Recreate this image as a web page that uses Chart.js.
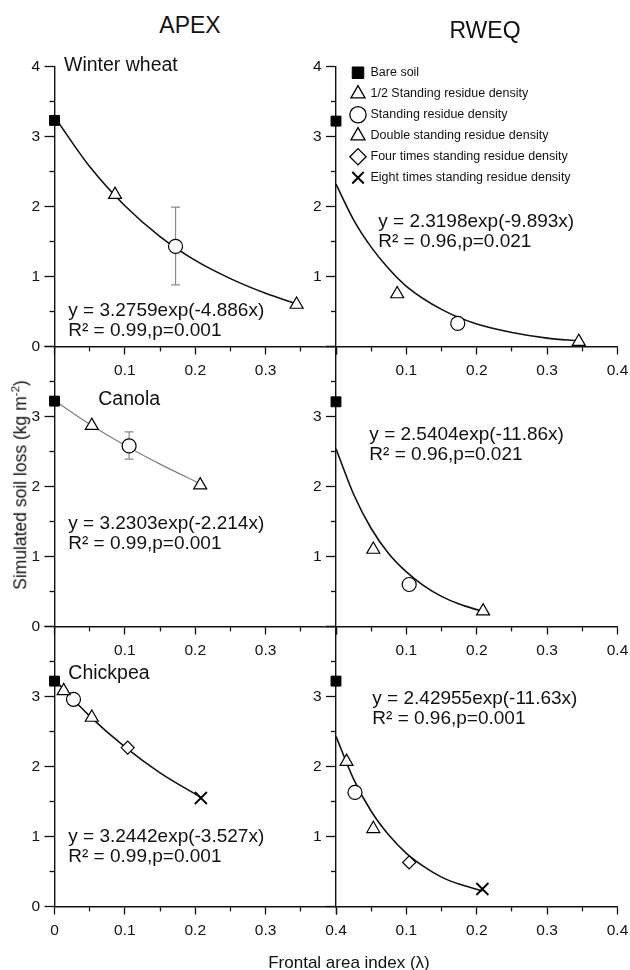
<!DOCTYPE html>
<html>
<head>
<meta charset="utf-8">
<script src="https://cdn.jsdelivr.net/npm/chart.js@4.4.1/dist/chart.umd.min.js"></script>
<style>
html,body{margin:0;padding:0;background:#fff;}
#fig{position:relative;width:630px;height:970px;overflow:hidden;font-family:"Liberation Sans",Arial,sans-serif;color:#111;}
canvas{position:absolute;}
.t{position:absolute;white-space:nowrap;line-height:1;}
</style>
</head>
<body>
<div id="fig">
  <canvas id="c00"></canvas>
  <canvas id="c01"></canvas>
  <canvas id="c10"></canvas>
  <canvas id="c11"></canvas>
  <canvas id="c20"></canvas>
  <canvas id="c21"></canvas>
  <div class="t" style="font-size:23px;left:190px;top:25px;transform:translate(-50%,-50%)">APEX</div>
  <div class="t" style="font-size:23px;left:485px;top:30px;transform:translate(-50%,-50%)">RWEQ</div>
  <div class="t" style="font-size:17.5px;left:19.5px;top:485px;transform:translate(-50%,-50%) rotate(-90deg)">Simulated soil loss (kg m<sup style="font-size:11.5px;vertical-align:7px">-2</sup>)</div>
  <div class="t" style="font-size:17px;left:349px;top:962px;transform:translate(-50%,-50%)">Frontal area index (λ)</div>
</div>
<script>
// ---------------- DATA ----------------
const seriesNames = [
  'Bare soil',
  '1/2 Standing residue density',
  'Standing residue density',
  'Double standing residue density',
  'Four times standing residue density',
  'Eight times standing residue density'
];

const xTickValues = [0, 0.05, 0.1, 0.15, 0.2, 0.25, 0.3, 0.35, 0.4];
const xTickLabels = ['0', '', '0.1', '', '0.2', '', '0.3', '', '0.4'];
const yTickValues = [0, 0.5, 1, 1.5, 2, 2.5, 3, 3.5, 4];
const yTickLabels = ['0', '', '1', '', '2', '', '3', '', '4'];

// Winter wheat
const wheatApexLambda = [0, 0.086, 0.172, 0.344, null, null];
const wheatApexLoss   = [3.23, 2.17, 1.43, 0.60, null, null];
const wheatApexErrLow  = [null, null, 0.88, null, null, null];
const wheatApexErrHigh = [null, null, 1.99, null, null, null];
const wheatApexFitX = [0, 0.05, 0.1, 0.15, 0.2, 0.25, 0.3, 0.344];
const wheatApexFitY = [3.28, 2.57, 2.01, 1.57, 1.23, 0.97, 0.76, 0.61];

const wheatRweqLambda = [0, 0.087, 0.173, 0.345, null, null];
const wheatRweqLoss   = [3.22, 0.75, 0.33, 0.07, null, null];
const wheatRweqFitX = [0, 0.025, 0.05, 0.075, 0.1, 0.15, 0.2, 0.25, 0.3, 0.345];
const wheatRweqFitY = [2.32, 1.81, 1.42, 1.11, 0.86, 0.53, 0.32, 0.20, 0.12, 0.08];

// Canola
const canolaApexLambda = [0, 0.053, 0.106, 0.207, null, null];
const canolaApexLoss   = [3.22, 2.87, 2.58, 2.02, null, null];
const canolaApexErrLow  = [null, null, 2.39, null, null, null];
const canolaApexErrHigh = [null, null, 2.78, null, null, null];
const canolaApexFitX = [0, 0.05, 0.1, 0.15, 0.207];
const canolaApexFitY = [3.23, 2.89, 2.59, 2.32, 2.04];

const canolaRweqLambda = [0, 0.053, 0.104, 0.209, null, null];
const canolaRweqLoss   = [3.21, 1.10, 0.60, 0.22, null, null];
const canolaRweqFitX = [0, 0.025, 0.05, 0.075, 0.1, 0.125, 0.15, 0.175, 0.207];
const canolaRweqFitY = [2.54, 1.89, 1.40, 1.04, 0.78, 0.58, 0.43, 0.32, 0.22];

// Chickpea
const chickpeaApexLambda = [0, 0.013, 0.027, 0.053, 0.104, 0.208];
const chickpeaApexLoss   = [3.22, 3.08, 2.96, 2.70, 2.27, 1.55];
const chickpeaApexFitX = [0, 0.05, 0.1, 0.15, 0.208];
const chickpeaApexFitY = [3.24, 2.72, 2.28, 1.91, 1.56];

const chickpeaRweqLambda = [0, 0.015, 0.027, 0.053, 0.104, 0.208];
const chickpeaRweqLoss   = [3.22, 2.07, 1.63, 1.11, 0.63, 0.25];
const chickpeaRweqFitX = [0, 0.025, 0.05, 0.075, 0.1, 0.125, 0.15, 0.175, 0.208];
const chickpeaRweqFitY = [2.43, 1.82, 1.36, 1.02, 0.76, 0.57, 0.42, 0.32, 0.22];

const cropNames = ['Winter wheat', 'Canola', 'Chickpea'];
const fitEquations = [
  ['y = 3.2759exp(-4.886x)', 'R² = 0.99,p=0.001'],
  ['y = 2.3198exp(-9.893x)', 'R² = 0.96,p=0.021'],
  ['y = 3.2303exp(-2.214x)', 'R² = 0.99,p=0.001'],
  ['y = 2.5404exp(-11.86x)', 'R² = 0.96,p=0.021'],
  ['y = 3.2442exp(-3.527x)', 'R² = 0.99,p=0.001'],
  ['y = 2.42955exp(-11.63x)', 'R² = 0.96,p=0.001']
];

// ---------------- STYLE / LAYOUT ----------------
const FONT = "'Liberation Sans', Arial, sans-serif";
Chart.defaults.font.family = FONT;
Chart.defaults.color = '#111';

const markerStyles = [
  {pointStyle: 'rect', radius: 7, bg: '#000', bw: 1},
  {pointStyle: 'triangle', radius: 7.5, bg: '#fff', bw: 1.2},
  {pointStyle: 'circle', radius: 7, bg: '#fff', bw: 1.2},
  {pointStyle: 'triangle', radius: 7.5, bg: '#fff', bw: 1.2},
  {pointStyle: 'rectRot', radius: 6.5, bg: '#fff', bw: 1.2},
  {pointStyle: 'crossRot', radius: 8.5, bg: '#000', bw: 1.8}
];

const ROW_TOP = [66.5, 346.5, 626.5];
const PLOT_H = 280, PLOT_W = 281.5, PAD_TOP = 16.5, CANVAS_H = 342;
const COLS = [
  {left: 0, axisW: 54.5, padR: 20, width: 356},
  {left: 276, axisW: 60, padR: 20.5, width: 362}
];

const panels = [
  {id: 'c00', row: 0, col: 0, lam: wheatApexLambda, loss: wheatApexLoss, fx: wheatApexFitX, fy: wheatApexFitY,
   eLo: wheatApexErrLow, eHi: wheatApexErrHigh, curve: '#111', cw: 1.6,
   xHide: ['0', '0.4'], yHide: [], name: cropNames[0], nameAt: [0.0135, 3.94], eq: fitEquations[0], eqAt: [0.0196, 0.43]},
  {id: 'c01', row: 0, col: 1, lam: wheatRweqLambda, loss: wheatRweqLoss, fx: wheatRweqFitX, fy: wheatRweqFitY,
   curve: '#111', cw: 1.6, xHide: ['0'], yHide: ['0'], eq: fitEquations[1], eqAt: [0.060, 1.71], legend: true},
  {id: 'c10', row: 1, col: 0, lam: canolaApexLambda, loss: canolaApexLoss, fx: canolaApexFitX, fy: canolaApexFitY,
   eLo: canolaApexErrLow, eHi: canolaApexErrHigh, curve: '#808080', cw: 1.2,
   xHide: ['0', '0.4'], yHide: ['4'], name: cropNames[1], nameAt: [0.0622, 3.17], eq: fitEquations[2], eqAt: [0.0196, 1.40]},
  {id: 'c11', row: 1, col: 1, lam: canolaRweqLambda, loss: canolaRweqLoss, fx: canolaRweqFitX, fy: canolaRweqFitY,
   curve: '#111', cw: 1.6, xHide: ['0'], yHide: ['0', '4'], eq: fitEquations[3], eqAt: [0.0474, 2.66]},
  {id: 'c20', row: 2, col: 0, lam: chickpeaApexLambda, loss: chickpeaApexLoss, fx: chickpeaApexFitX, fy: chickpeaApexFitY,
   curve: '#111', cw: 1.6, xHide: [], yHide: ['4'], name: cropNames[2], nameAt: [0.0196, 3.25], eq: fitEquations[4], eqAt: [0.0196, 0.92]},
  {id: 'c21', row: 2, col: 1, lam: chickpeaRweqLambda, loss: chickpeaRweqLoss, fx: chickpeaRweqFitX, fy: chickpeaRweqFitY,
   curve: '#111', cw: 1.6, xHide: ['0'], yHide: ['0', '4'], eq: fitEquations[5], eqAt: [0.0516, 2.89]}
];

function buildPanel(p) {
  const col = COLS[p.col];
  const cv = document.getElementById(p.id);
  cv.width = col.width; cv.height = CANVAS_H;
  cv.style.width = col.width + 'px'; cv.style.height = CANVAS_H + 'px';
  cv.style.left = col.left + 'px';
  cv.style.top = (ROW_TOP[p.row] - PAD_TOP) + 'px';

  const datasets = [];
  p.lam.forEach((lx, i) => {
    if (lx === null) return;
    const m = markerStyles[i];
    datasets.push({
      label: seriesNames[i],
      data: [{x: lx, y: p.loss[i]}],
      pointStyle: m.pointStyle, pointRadius: m.radius, pointHoverRadius: m.radius,
      backgroundColor: m.bg, borderColor: '#000', pointBorderWidth: m.bw, borderWidth: m.bw,
      showLine: false, clip: false, order: 1
    });
  });
  datasets.push({
    type: 'line', label: 'fit',
    data: p.fx.map((fx, i) => ({x: fx, y: p.fy[i]})),
    borderColor: p.curve, borderWidth: p.cw, pointRadius: 0, fill: false,
    cubicInterpolationMode: 'monotone', clip: false, order: 10
  });

  const plugins = [{
    id: 'panelExtras',
    beforeDatasetsDraw(chart) {
      if (!p.eLo) return;
      const {ctx, scales: {x, y}} = chart;
      ctx.save();
      ctx.strokeStyle = '#8a8a8a'; ctx.lineWidth = 1.2;
      p.eLo.forEach((lo, i) => {
        if (lo === null) return;
        const px = x.getPixelForValue(p.lam[i]);
        const y1 = y.getPixelForValue(lo), y2 = y.getPixelForValue(p.eHi[i]);
        ctx.beginPath();
        ctx.moveTo(px, y1); ctx.lineTo(px, y2);
        ctx.moveTo(px - 4.5, y1); ctx.lineTo(px + 4.5, y1);
        ctx.moveTo(px - 4.5, y2); ctx.lineTo(px + 4.5, y2);
        ctx.stroke();
      });
      ctx.restore();
    },
    afterDatasetsDraw(chart) {
      const {ctx, scales: {x, y}} = chart;
      ctx.save();
      ctx.fillStyle = '#111'; ctx.textAlign = 'left'; ctx.textBaseline = 'alphabetic';
      if (p.name) {
        ctx.font = '19.5px ' + FONT;
        ctx.fillText(p.name, x.getPixelForValue(p.nameAt[0]), y.getPixelForValue(p.nameAt[1]));
      }
      ctx.font = '19px ' + FONT;
      const ex = x.getPixelForValue(p.eqAt[0]);
      const ey = y.getPixelForValue(p.eqAt[1]);
      ctx.fillText(p.eq[0], ex, ey);
      ctx.fillText(p.eq[1], ex, ey + 20);
      ctx.restore();
    },
    afterLayout(chart) {
      if (!p.legend || !chart.legend) return;
      const lg = chart.legend, ca = chart.chartArea;
      lg.left = ca.left + 7.25; lg.top = ca.top - 8.5;
      lg.right = ca.right; lg.bottom = ca.bottom;
    }
  }];

  new Chart(cv, {
    type: 'scatter',
    data: {datasets},
    plugins,
    options: {
      responsive: false, animation: false, devicePixelRatio: 1,
      layout: {padding: {top: PAD_TOP, right: col.padR, left: 0, bottom: 0}},
      plugins: {
        tooltip: {enabled: false},
        legend: {
          display: !!p.legend, position: 'chartArea', align: 'start',
          labels: {
            usePointStyle: true, boxWidth: 13, boxHeight: 11.5, padding: 8.5, color: '#111',
            font: {size: 12.5, family: FONT},
            generateLabels: () => seriesNames.map((s, i) => ({
              text: s, pointStyle: markerStyles[i].pointStyle,
              fillStyle: markerStyles[i].bg, strokeStyle: '#000',
              lineWidth: i === 5 ? 2 : (i === 0 ? 1 : 1.3), hidden: false, rotation: 0, fontColor: '#111'
            }))
          }
        }
      },
      scales: {
        x: {
          type: 'linear', position: 'bottom', min: 0, max: 0.4,
          afterBuildTicks: (a) => { a.ticks = xTickValues.map(v => ({value: v})); },
          afterFit: (a) => { a.height = CANVAS_H - PAD_TOP - PLOT_H; },
          border: {display: true, color: '#111', width: 1.4},
          grid: {
            display: true, drawOnChartArea: false, drawTicks: true, tickLength: 8,
            tickColor: '#111', tickWidth: 1.3,
            tickBorderDash: (c) => xTickLabels[c.index] === '' ? [4, 40] : [],
            tickBorderDashOffset: 0
          },
          ticks: {
            autoSkip: false, maxRotation: 0, minRotation: 0, padding: 6.5, color: '#111',
            font: {size: 15.5, family: FONT},
            callback: (v, i) => p.xHide.includes(xTickLabels[i]) ? '' : xTickLabels[i]
          }
        },
        y: {
          type: 'linear', position: 'left', min: 0, max: 4,
          afterBuildTicks: (a) => { a.ticks = yTickValues.map(v => ({value: v})); },
          afterFit: (a) => { a.width = col.axisW; },
          border: {display: true, color: '#111', width: 1.4},
          grid: {
            display: true, drawOnChartArea: false, drawTicks: true, tickLength: 10,
            tickColor: '#111', tickWidth: 1.3,
            tickBorderDash: (c) => yTickLabels[c.index] === '' ? [5, 5] : [],
            tickBorderDashOffset: (c) => yTickLabels[c.index] === '' ? 5 : 0
          },
          ticks: {
            autoSkip: false, padding: 4.5, color: '#111',
            font: {size: 15.5, family: FONT},
            callback: (v, i) => p.yHide.includes(yTickLabels[i]) ? '' : yTickLabels[i]
          }
        }
      }
    }
  });
}

panels.forEach(buildPanel);
</script>
</body>
</html>
